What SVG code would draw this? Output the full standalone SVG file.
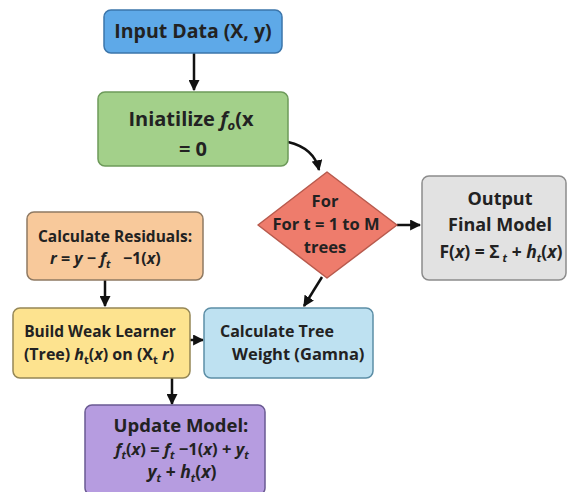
<svg xmlns="http://www.w3.org/2000/svg" width="573" height="492" viewBox="0 0 573 492">
<style>
.t{font-family:"Open Sans","Liberation Sans",sans-serif;font-weight:bold;fill:#222;font-size:16px}
.c{text-anchor:middle}
.i{font-style:italic}
.s{font-size:11px}
.ln{fill:none;stroke:#111;stroke-width:2.5}
</style>
<defs>
<marker id="ah" viewBox="0 0 10 10" refX="9" refY="5" markerWidth="4.4" markerHeight="4.4" orient="auto">
<path d="M0,0 L10,5 L0,10 z" fill="#111"/>
</marker>
</defs>
<rect width="573" height="492" fill="#fff"/>
<g id="connectors">
<line class="ln" x1="194" y1="53" x2="194" y2="90" marker-end="url(#ah)"/>
<path class="ln" d="M288,142 C305,146 316,156 319,170" marker-end="url(#ah)"/>
<line class="ln" x1="397" y1="225" x2="420" y2="225" marker-end="url(#ah)"/>
<line class="ln" x1="322" y1="277" x2="304" y2="306" marker-end="url(#ah)"/>
<line class="ln" x1="105" y1="280" x2="105" y2="306" marker-end="url(#ah)"/>
<line class="ln" x1="190" y1="340" x2="203" y2="340" marker-end="url(#ah)"/>
<line class="ln" x1="172" y1="378" x2="172" y2="404" marker-end="url(#ah)"/>
</g>
<g id="input">
<rect x="104" y="10" width="178" height="43" rx="7" fill="#5ea9e8" stroke="#3b75aa" stroke-width="1.5"/>
<text class="t c" x="193" y="38" style="font-size:19.5px">Input Data (X, y)</text>
</g>
<g id="init">
<rect x="98" y="92" width="190" height="74" rx="7" fill="#a3d08a" stroke="#6d9a5a" stroke-width="1.5"/>
<text class="t c" x="191" y="126" style="font-size:20px">Iniatilize <tspan class="i">f</tspan><tspan class="i" font-size="13" dy="4">o</tspan><tspan dy="-4">(x</tspan></text>
<text class="t c" x="193" y="156" style="font-size:20px">= 0</text>
</g>
<g id="loop">
<path d="M327,172 L397,225 L327,278 L258,225 Z" fill="#ee7c6c" stroke="#b85a4d" stroke-width="1.5" stroke-linejoin="round"/>
<text class="t c" x="325" y="207" style="font-size:16.5px">For</text>
<text class="t c" x="326" y="230" style="font-size:16.5px">For t = 1 to M</text>
<text class="t c" x="325" y="253" style="font-size:16.5px">trees</text>
</g>
<g id="output">
<rect x="422" y="176" width="144" height="104" rx="7" fill="#e2e2e2" stroke="#8c8c8c" stroke-width="1.5"/>
<text class="t c" x="500" y="205" style="font-size:18px">Output</text>
<text class="t c" x="500" y="231" style="font-size:18px">Final Model</text>
<text class="t c" x="501" y="258" style="font-size:17.5px">F(<tspan class="i">x</tspan>) = Σ<tspan class="s i" dy="4" font-size="12"> t</tspan><tspan dy="-4"> + </tspan><tspan class="i">h</tspan><tspan class="s i" dy="4" font-size="12">t</tspan><tspan dy="-4">(</tspan><tspan class="i">x</tspan>)</text>
</g>
<g id="residuals">
<rect x="27" y="212" width="176" height="68" rx="7" fill="#f8c99b" stroke="#8f7a63" stroke-width="1.5"/>
<text class="t c" x="115" y="242" style="font-size:15.5px">Calculate Residuals:</text>
<text class="t" x="50" y="264" style="font-size:16px"><tspan class="i">r</tspan> = <tspan class="i">y</tspan> − <tspan class="i">f</tspan><tspan class="s i" dy="4">t</tspan><tspan dy="-4" xml:space="preserve">   −1(</tspan><tspan class="i">x</tspan>)</text>
</g>
<g id="weak">
<rect x="13" y="308" width="177" height="70" rx="7" fill="#fde38f" stroke="#958756" stroke-width="1.5"/>
<text class="t c" x="100" y="337" style="font-size:15.5px">Build Weak Learner</text>
<text class="t c" x="99" y="360" style="font-size:16px">(Tree) <tspan class="i">h</tspan><tspan class="s" dy="4">t</tspan><tspan dy="-4">(</tspan><tspan class="i">x</tspan>) on (X<tspan class="s" dy="4">t</tspan><tspan class="i" dy="-4"> r</tspan>)</text>
</g>
<g id="weight">
<rect x="204" y="308" width="169" height="70" rx="7" fill="#bee1f1" stroke="#5c8ea6" stroke-width="1.5"/>
<text class="t" x="220" y="337" style="font-size:16px">Calculate Tree</text>
<text class="t" x="232" y="360" style="font-size:16.5px">Weight (Gamna)</text>
</g>
<g id="update">
<rect x="85" y="405" width="180" height="90" rx="7" fill="#b69ce0" stroke="#6a5a92" stroke-width="1.5"/>
<text class="t c" x="181" y="432" style="font-size:18.5px">Update Model:</text>
<text class="t c" x="182" y="455" style="font-size:16.5px"><tspan class="i">f</tspan><tspan class="s i" dy="4">t</tspan><tspan dy="-4">(</tspan><tspan class="i">x</tspan>) = <tspan class="i">f</tspan><tspan class="s i" dy="4">t</tspan><tspan dy="-4"> −1(</tspan><tspan class="i">x</tspan>) + <tspan class="i">y</tspan><tspan class="s i" dy="4">t</tspan></text>
<text class="t c" x="182" y="478" style="font-size:17.5px"><tspan class="i">y</tspan><tspan class="s i" dy="4">t</tspan><tspan dy="-4"> + </tspan><tspan class="i">h</tspan><tspan class="s i" dy="4">t</tspan><tspan dy="-4">(</tspan><tspan class="i">x</tspan>)</text>
</g>
</svg>
